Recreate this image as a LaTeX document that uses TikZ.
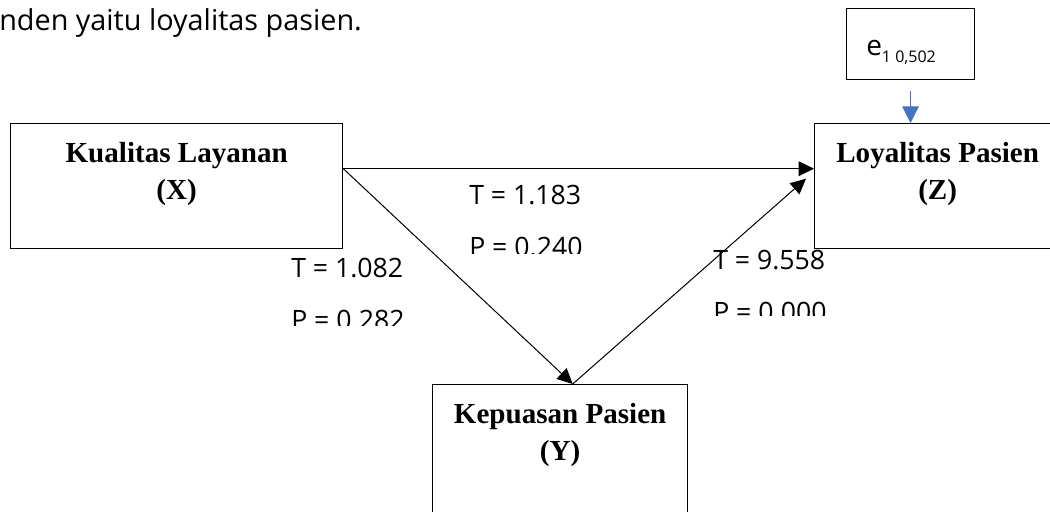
\documentclass[tikz,border=0pt]{standalone}
\usepackage{fontspec}
\setmainfont{Liberation Serif}
\newfontfamily\labelfont{Open Sans}
\usepackage{xcolor}
\usetikzlibrary{arrows.meta}
\definecolor{errblue}{HTML}{4472C4}

\begin{document}
\begin{tikzpicture}[x=0.75pt, y=-0.75pt,
  var/.style={draw, line width=1pt, anchor=north west, inner sep=0pt, minimum height=93.75pt},
  vtxt/.style={anchor=north, inner sep=0pt, yshift=-14.25pt, align=center, font=\fontsize{21.8}{27.5}\selectfont\bfseries},
  stat/.style={anchor=north west, inner sep=0pt, align=left, font=\labelfont\fontsize{20}{39}\selectfont},
  arr/.style={-{Triangle[length=11.5pt,width=11pt]}, line width=0.75pt},
  errarr/.style={-{Triangle[length=12.5pt,width=12.5pt]}, line width=0.75pt, errblue}]
\useasboundingbox (0,0) rectangle (1050,511);
\clip (0,0) rectangle (1050,511);
% line of running text above the figure
\node[anchor=base west, inner sep=0pt, font=\labelfont\fontsize{21.6}{26}\selectfont] (txt) at (-1,30) {nden yaitu loyalitas pasien.};
% variables
\node[var, minimum width=249pt, label={[vtxt]north:{Kualitas Layanan\\(X)}}] (X) at (10,123) {};
\node[var, minimum width=184.5pt, label={[vtxt]north:{Loyalitas Pasien\\(Z)}}] (Z) at (814,123) {};
\node[var, minimum width=191.25pt, minimum height=97.5pt, label={[vtxt]north:{Kepuasan Pasien\\(Y)}}] (Y) at (432,384) {};
% error term
\node[draw, line width=0.75pt, anchor=north west, inner sep=0pt, minimum width=96pt, minimum height=53.25pt] (E) at (846,8) {};
\node[anchor=base west, inner sep=0pt, font=\labelfont] (etxt) at (866,55) {{\fontsize{21}{25}\selectfont e}\raisebox{-5.25pt}{\fontsize{12}{14}\selectfont 1 0,502}};
\draw[errarr] ([yshift=-8.25pt]E.south) -- (E.south |- Z.north);
% paths
\draw[arr] ([yshift=13.1pt]X.east) -- ([yshift=13.1pt]Z.west);
\draw[arr] ([yshift=13.1pt]X.east) -- ([xshift=9.4pt]Y.north);
\draw[arr] ([xshift=9.4pt]Y.north) -- ([xshift=-6pt,yshift=5.6pt]Z.west);
% t and p values (cut off at the bottom as in the source)
\begin{scope}
\clip (455,170) rectangle (620,253);
\node[stat] (xz) at (469,185) {T = 1.183\\P = 0.240};
\end{scope}
\begin{scope}
\clip (280,252) rectangle (440,325);
\node[stat] (xy) at (291,258) {T = 1.082\\P = 0.282};
\end{scope}
\begin{scope}
\clip (700,240) rectangle (870,315);
\node[stat] (yz) at (713,250) {T = 9.558\\P = 0.000};
\end{scope}
\end{tikzpicture}
\end{document}
